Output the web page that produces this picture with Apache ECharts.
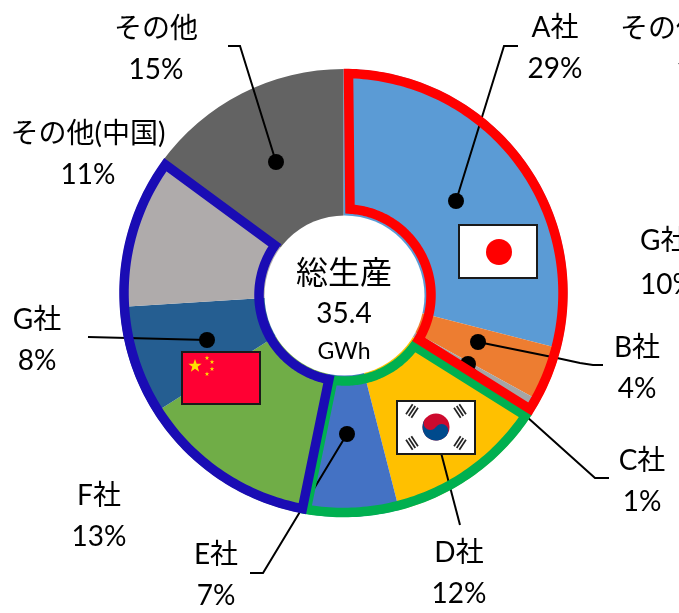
<!DOCTYPE html>
<html>
<head>
<meta charset="utf-8">
<style>html,body{margin:0;padding:0;background:#fff}#chart{width:679px;height:613px;overflow:hidden}</style>
<script src="https://cdn.jsdelivr.net/npm/echarts@6/dist/echarts.min.js"></script>
</head>
<body>
<div id="chart"></div>
<script>
// Battery output share by maker, grouped by home country.
const makers = ['A社', 'B社', 'C社', 'D社', 'E社', 'F社', 'G社', 'その他(中国)', 'その他'];
const shares = [29, 4, 1, 12, 7, 13, 8, 11, 15];
const sliceColors = ['#5B9BD5', '#ED7D31', '#A5A5A5', '#FFC000', '#4472C4', '#70AD47', '#255E91', '#AFABAB', '#636363'];
const countryShares = [34, 19, 32];
const countryColors = ['#FF0000', '#00B050', '#1A0CB4'];
const totalLines = ['総生産', '35.4', 'GWh'];
const strayLabels = [['その他', 620, 29], ['1', 676, 70], ['G社', 640, 241], ['10%', 640, 285]];

const FONT = 'Lato, "Noto Sans CJK JP", sans-serif';
const CX = 343.5, CY = 293;
const HOLE_X = 345, HOLE_Y = 295;
const labelAt = [[555, 48], [637, 368], [642, 481], [459, 573], [216, 575], [99, 516], [37, 340], [88, 154], [156, 49]];
// Pin position (dot) and bend points of each leader line.
const leaders = [
  [[456, 201], [504, 46], [518, 46]],
  [[478, 342], [557, 358], [580, 363], [593, 365], [603, 365]],
  [[468, 364], [595, 478], [609, 478]],
  [[439, 445], [460, 525]],
  [[347, 434], [263, 573], [250, 573]],
  [[207, 340], [88, 337]],
  [[276, 162], [240, 46], [228, 46]]
];
// How far each country outline's two straight edges sit inside its wedge, in pixels.
const edgeInset = [[5, 2], [6, 4], [0, 1]];

// Closed outline of one country's wedge, drawn from its share of the total.
function renderOutline(params, api) {
  const i = params.dataIndex;
  const from = countryShares.slice(0, i).reduce((a, b) => a + b, 0);
  const a0 = from * 3.6 * Math.PI / 180;
  const a1 = (from + api.value(0)) * 3.6 * Math.PI / 180;
  const R = 219.5, r = 86;
  const [d0, d1] = edgeInset[i];
  const pts = [];
  const arc = (cx, cy, rad, s, e) => {
    const n = Math.ceil(Math.abs(e - s) * 180 / Math.PI);
    for (let k = 0; k <= n; k++) {
      const t = s + (e - s) * k / n;
      pts.push([cx + rad * Math.sin(t), cy - rad * Math.cos(t)]);
    }
  };
  arc(CX, CY, R, a0 + Math.asin(d0 / R), a1 - Math.asin(d1 / R));
  arc(HOLE_X, HOLE_Y, r, a1 - Math.asin(d1 / r), a0 + Math.asin(d0 / r));
  return {
    type: 'polygon',
    z2: i === 1 ? 0 : 1,
    shape: { points: pts },
    style: { fill: 'none', stroke: countryColors[i], lineWidth: 9.5, lineJoin: 'miter' }
  };
}

function starPoints(x, y, r) {
  const pts = [];
  for (let k = 0; k < 10; k++) {
    const a = -Math.PI / 2 + k * Math.PI / 5, q = k % 2 ? r * 0.4 : r;
    pts.push([x + q * Math.cos(a), y + q * Math.sin(a)]);
  }
  return pts;
}

const flagFrame = { stroke: '#1a1a1a', lineWidth: 2 };
const Z = 20;
const graphics = [];
const add = o => graphics.push(Object.assign({ silent: true, z: Z }, o));

// Hole of the ring
add({ type: 'circle', z: 2, shape: { cx: 344.5, cy: 295.5, r: 80 }, style: { fill: '#fff' } });

// Leaders sit beneath the country outlines.
leaders.forEach(pts => {
  add({ type: 'polyline', z: 3, shape: { points: pts }, style: { stroke: '#000', lineWidth: 2, fill: null } });
  add({ type: 'circle', z: 3, shape: { cx: pts[0][0], cy: pts[0][1], r: 8 }, style: { fill: '#000' } });
});

// Japan
add({ type: 'rect', shape: { x: 459, y: 225, width: 78, height: 53 }, style: Object.assign({ fill: '#fff' }, flagFrame) });
add({ type: 'circle', shape: { cx: 499, cy: 252, r: 13 }, style: { fill: '#FF0000' } });

// Korea
add({ type: 'rect', shape: { x: 397, y: 401, width: 78, height: 53 }, style: Object.assign({ fill: '#fff' }, flagFrame) });
const kx = 436, ky = 427, kr = 13.5, tilt = 33.7 * Math.PI / 180;
add({ type: 'circle', shape: { cx: kx, cy: ky, r: kr }, style: { fill: '#CD0A2E' } });
add({ type: 'sector', shape: { cx: kx, cy: ky, r: kr, r0: 0, startAngle: tilt, endAngle: tilt + Math.PI }, style: { fill: '#004A8C' } });
const ux = Math.cos(tilt), uy = Math.sin(tilt);
add({ type: 'circle', z: Z + 1, shape: { cx: kx - ux * kr / 2, cy: ky - uy * kr / 2, r: kr / 2 }, style: { fill: '#CD0A2E' } });
add({ type: 'circle', z: Z + 1, shape: { cx: kx + ux * kr / 2, cy: ky + uy * kr / 2, r: kr / 2 }, style: { fill: '#004A8C' } });
[[-1, -1], [1, -1], [-1, 1], [1, 1]].forEach(s => {
  const gx = kx + s[0] * 24, gy = ky + s[1] * 16;
  const down = s[0] * s[1] > 0;
  const dirX = down ? -0.55 : 0.55, dirY = 0.83;
  for (let j = -1; j <= 1; j++) {
    const ox = gx + j * 3.2 * 0.83, oy = gy + j * 3.2 * (down ? 0.55 : -0.55);
    add({ type: 'line', shape: { x1: ox - dirX * 6, y1: oy - dirY * 6, x2: ox + dirX * 6, y2: oy + dirY * 6 }, style: { stroke: '#222', lineWidth: 1.7 } });
  }
});

// China
add({ type: 'rect', shape: { x: 182, y: 352, width: 78, height: 52 }, style: Object.assign({ fill: '#FF0033' }, flagFrame) });
add({ type: 'polygon', shape: { points: starPoints(195, 366, 7) }, style: { fill: '#FFE000' } });
[[207, 358], [212, 362], [212, 369], [207, 374]].forEach(p => {
  add({ type: 'polygon', shape: { points: starPoints(p[0], p[1], 2.4) }, style: { fill: '#FFE000' } });
});

// Total in the hole of the ring
[[totalLines[0], 274, 32], [totalLines[1], 314, 28], [totalLines[2], 352, 23]].forEach(t => {
  add({ type: 'text', x: 344, y: t[1], style: { text: t[0], fill: '#000', font: t[2] + 'px ' + FONT, align: 'center', verticalAlign: 'middle' } });
});

// Labels that run off the right edge
strayLabels.forEach(t => {
  add({ type: 'text', x: t[1], y: t[2], style: { text: t[0], fill: '#000', font: '28px ' + FONT, align: 'left', verticalAlign: 'middle' } });
});

const chart = echarts.init(document.getElementById('chart'), null, { renderer: 'canvas' });
chart.setOption({
  animation: false,
  backgroundColor: '#fff',
  series: [
    {
      type: 'pie', silent: true, z: 1,
      center: [CX, CY],
      radius: [60, 224],
      startAngle: 90, clockwise: true,
      emphasis: { disabled: true },
      itemStyle: { borderWidth: 0 },
      labelLine: { show: false },
      label: {
        show: true, position: 'outside', formatter: '{b}\n{c}%', width: 260, overflow: 'none',
        color: '#000', fontFamily: FONT, fontSize: 28, lineHeight: 41, align: 'center'
      },
      labelLayout: p => ({ x: labelAt[p.dataIndex][0], y: labelAt[p.dataIndex][1], align: 'center', verticalAlign: 'middle' }),
      data: makers.map((m, i) => ({ name: m, value: shares[i], itemStyle: { color: sliceColors[i] } }))
    },
    {
      type: 'custom', coordinateSystem: 'none', silent: true, z: 5,
      renderItem: renderOutline,
      data: countryShares
    }
  ],
  graphic: { elements: graphics }
});
</script>
</body>
</html>
